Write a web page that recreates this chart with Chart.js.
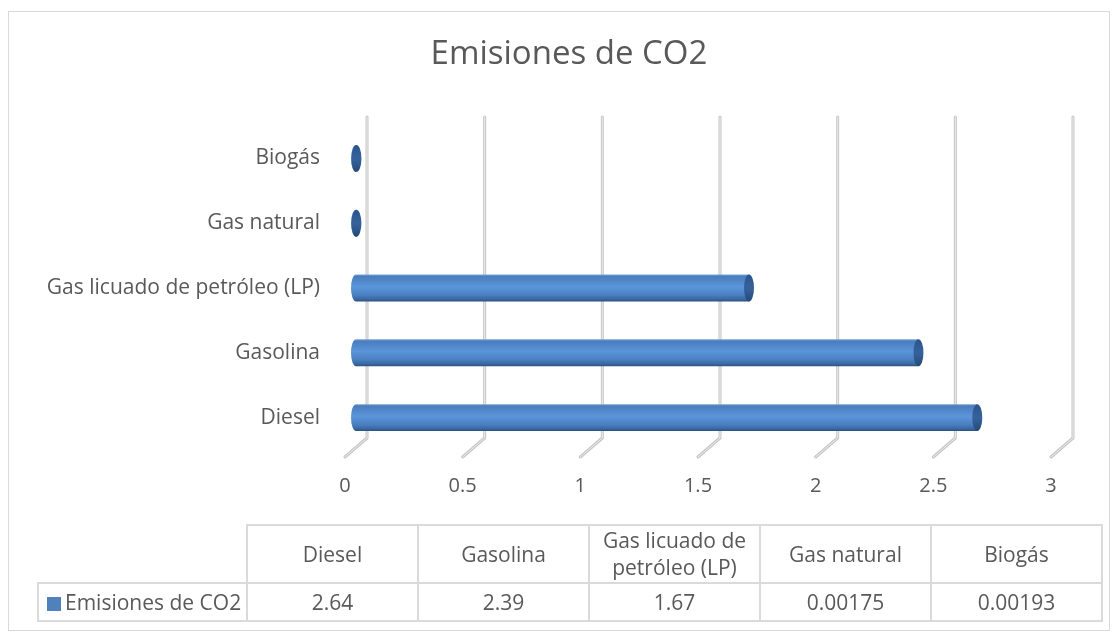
<!DOCTYPE html>
<html>
<head>
<meta charset="utf-8">
<script src="https://cdn.jsdelivr.net/npm/chart.js@4/dist/chart.umd.min.js"></script>
<style>
  body { margin: 0; background: #fff; font-family: 'Open Sans', sans-serif; }
  #wrap { position: relative; width: 1120px; height: 642px; }
  #frame { position: absolute; left: 8px; top: 11px; width: 1102px; height: 620px; border: 1px solid #d9d9d9; box-sizing: border-box; }
  canvas { position: absolute; left: 0; top: 0; }
  #dataTable { position: absolute; left: 37px; top: 524px; border-collapse: collapse; table-layout: fixed; color: #595959; font-size: 21px; }
  #dataTable td { border: 2px solid #dadada; text-align: center; padding: 0; line-height: 27px; white-space: nowrap; }
  #dataTable tr.head td { height: 56px; }
  #dataTable tr.vals td { height: 36px; }
  #dataTable td.blank { border-top: none; border-left: none; }
  #dataTable td.series { text-align: left; padding-left: 8px; }
  .swatch { display: inline-block; width: 14px; height: 14px; background: #4f81bd; vertical-align: -1px; margin-right: 4px; }
</style>
</head>
<body>
<div id="wrap">
  <div id="frame"></div>
  <canvas id="co2Chart" width="1120" height="642"></canvas>
  <table id="dataTable"></table>
</div>
<script>
const categories = ["Diesel", "Gasolina", "Gas licuado de petróleo (LP)", "Gas natural", "Biogás"];
const tableHeaders = ["Diesel", "Gasolina", "Gas licuado de<br>petróleo (LP)", "Gas natural", "Biogás"];
const emisiones = [2.64, 2.39, 1.67, 0.00175, 0.00193];
const seriesName = "Emisiones de CO2";
const chartTitle = "Emisiones de CO2";
const xTicks = [0, 0.5, 1, 1.5, 2, 2.5, 3];

const TEXT = "#595959";
Chart.defaults.font.family = "'Open Sans', sans-serif";
Chart.defaults.color = TEXT;

function barGradient(ctx, top, bottom) {
  const g = ctx.createLinearGradient(0, top, 0, bottom);
  g.addColorStop(0, "#7aa3d6");
  g.addColorStop(0.07, "#4a7dbd");
  g.addColorStop(0.45, "#5b95da");
  g.addColorStop(0.75, "#4b80c2");
  g.addColorStop(0.92, "#3a679f");
  g.addColorStop(1, "#2c4f7c");
  return g;
}

// title centred on the whole frame (the built-in one follows the layout padding)
const titlePlugin = {
  id: "frameTitle",
  afterDraw(chart) {
    const ctx = chart.ctx;
    ctx.save();
    ctx.font = "33px 'Open Sans', sans-serif";
    ctx.fillStyle = TEXT;
    ctx.textAlign = "center";
    ctx.textBaseline = "middle";
    ctx.fillText(chartTitle, 569, 55);
    ctx.restore();
  }
};

// 3D-ish gridlines: back wall line plus a diagonal floor line
const gridPlugin = {
  id: "grid3d",
  beforeDatasetsDraw(chart) {
    const { ctx, chartArea } = chart;
    const xs = chart.scales.x;
    ctx.save();
    xTicks.forEach(v => {
      const xb = xs.getPixelForValue(v) + 11;
      const path = () => {
        ctx.beginPath();
        ctx.moveTo(xb, chartArea.top - 9);
        ctx.lineTo(xb, chartArea.bottom - 12);
        ctx.lineTo(xb - 22, chartArea.bottom + 7);
        ctx.stroke();
      };
      ctx.lineJoin = "round";
      ctx.lineCap = "round";
      ctx.strokeStyle = "#c6c6c6";
      ctx.lineWidth = 3;
      path();
      ctx.strokeStyle = "#ececec";
      ctx.lineWidth = 1;
      path();
    });
    ctx.restore();
  }
};

// cylinder ends
const capsPlugin = {
  id: "caps",
  afterDatasetsDraw(chart) {
    const ctx = chart.ctx;
    const meta = chart.getDatasetMeta(0);
    ctx.save();
    meta.data.forEach(bar => {
      const h = bar.height;
      const top = bar.y - h / 2, bottom = bar.y + h / 2;
      const rx = 5, ry = h / 2;
      // left rounded end
      ctx.fillStyle = barGradient(ctx, top, bottom);
      ctx.beginPath();
      ctx.ellipse(bar.base, bar.y, rx, ry, 0, Math.PI / 2, Math.PI * 1.5);
      ctx.fill();
      // right end face
      const g = ctx.createLinearGradient(0, top, 0, bottom);
      g.addColorStop(0, "#2b548a");
      g.addColorStop(0.5, "#36629c");
      g.addColorStop(1, "#264a78");
      ctx.fillStyle = g;
      ctx.beginPath();
      ctx.ellipse(bar.x, bar.y, rx, ry, 0, 0, Math.PI * 2);
      ctx.fill();
    });
    ctx.restore();
  }
};

new Chart(document.getElementById("co2Chart"), {
  type: "bar",
  data: {
    labels: categories,
    datasets: [{
      label: seriesName,
      data: emisiones,
      backgroundColor: (c) => {
        const ys = c.chart.scales.y;
        if (!ys || c.dataIndex === undefined) return "#4f81bd";
        const cy = ys.getPixelForValue(c.dataIndex);
        if (!isFinite(cy)) return "#4f81bd";
        return barGradient(c.chart.ctx, cy - 13.5, cy + 13.5);
      },
      borderWidth: 0,
      barPercentage: 0.415,
      categoryPercentage: 1
    }]
  },
  options: {
    indexAxis: "y",
    responsive: false,
    animation: false,
    layout: { padding: { left: 20, right: 58, top: 126, bottom: 142 } },
    plugins: {
      legend: { display: false },
      tooltip: { enabled: false },
      title: { display: false }
    },
    scales: {
      x: {
        min: 0,
        max: 3,
        afterBuildTicks: (s) => { s.ticks = xTicks.map(v => ({ value: v })); },
        afterFit: (s) => { s.height = 50; },
        grid: { display: false, drawTicks: false },
        border: { display: false },
        ticks: { padding: 24, labelOffset: -11, font: { size: 20 }, color: TEXT, callback: (v) => String(v) }
      },
      y: {
        reverse: true,
        afterFit: (s) => { s.width = 336; },
        grid: { display: false, drawTicks: false },
        border: { display: false },
        ticks: { padding: 36, font: { size: 21 }, color: TEXT }
      }
    }
  },
  plugins: [gridPlugin, capsPlugin, titlePlugin]
});

// data table under the chart
const table = document.getElementById("dataTable");
let cols = '<colgroup><col style="width:209px">' + categories.map(() => '<col style="width:171px">').join("") + "</colgroup>";
let head = '<tr class="head"><td class="blank"></td>' + tableHeaders.map(h => `<td>${h}</td>`).join("") + "</tr>";
let vals = `<tr class="vals"><td class="series"><span class="swatch"></span>${seriesName}</td>` +
  emisiones.map(v => `<td>${String(v)}</td>`).join("") + "</tr>";
table.innerHTML = cols + head + vals;
</script>
</body>
</html>
